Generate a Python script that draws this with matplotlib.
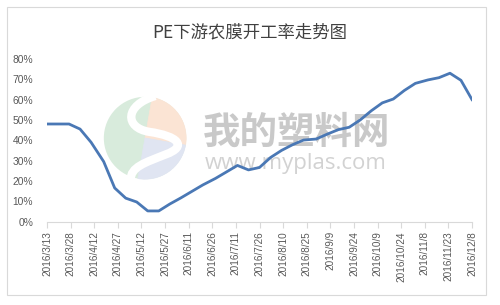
import datetime
import matplotlib
matplotlib.use("Agg")
import matplotlib.pyplot as plt
from matplotlib.patches import Circle, Wedge, Rectangle, PathPatch
from matplotlib.path import Path

plt.rcParams['font.family'] = ['Noto Sans CJK SC', 'DejaVu Sans']

title = "PE下游农膜开工率走势图"

dates = [
    "2016-03-13", "2016-03-20", "2016-03-27", "2016-04-03", "2016-04-10",
    "2016-04-18", "2016-04-25", "2016-05-02", "2016-05-09", "2016-05-16",
    "2016-05-23", "2016-05-30", "2016-06-06", "2016-06-13", "2016-06-20",
    "2016-06-28", "2016-07-05", "2016-07-12", "2016-07-19", "2016-07-26",
    "2016-08-02", "2016-08-09", "2016-08-16", "2016-08-23", "2016-08-31",
    "2016-09-07", "2016-09-14", "2016-09-21", "2016-09-28", "2016-10-05",
    "2016-10-12", "2016-10-19", "2016-10-26", "2016-11-02", "2016-11-10",
    "2016-11-17", "2016-11-24", "2016-12-01", "2016-12-08",
]

rates = [
    48, 48, 48, 45.5, 39,
    29.5, 16.5, 11.5, 9.6, 5.2,
    5.2, 8.6, 11.6, 14.8, 18.0,
    21.2, 24.4, 27.6, 25.4, 26.6,
    31.5, 35.0, 37.8, 40.1, 40.6,
    43.0, 45.2, 46.4, 50.0, 54.5,
    58.4, 60.3, 64.5, 68.0, 69.7,
    70.8, 73.0, 69.5, 60.0,
]

tick_start = datetime.date(2016, 3, 13)
tick_end = datetime.date(2016, 12, 8)

x = [datetime.datetime.strptime(d, "%Y-%m-%d").date() for d in dates]
y = [r / 100 for r in rates]

W, H = 500, 305
fig = plt.figure(figsize=(W / 100, H / 100), dpi=100)

# chart border
fig.patches.append(Rectangle((7 / W, 1 - 295 / H), 479 / W, 288 / H,
                             transform=fig.transFigure, fill=False,
                             edgecolor="#d9d9d9", linewidth=0.8))

# watermark logo
logo = fig.add_axes([103 / W, 1 - 180 / H, 84 / W, 84 / H], zorder=0)
logo.set_xlim(-1.02, 1.02)
logo.set_ylim(-1.02, 1.02)
logo.axis("off")
logo.add_patch(Circle((0, 0), 1, facecolor="#d8ebdc", edgecolor="none"))
logo.add_patch(Wedge((0, 0), 1, -10, 80, facecolor="#fbe4d4",
                     edgecolor="#fbe4d4", linewidth=0.5))
logo.add_patch(Wedge((0, 0), 1, -100, -10, facecolor="#e0e5f2",
                     edgecolor="#e0e5f2", linewidth=0.5))
s_path = Path([(0.25, 1.02),
               (-0.5, 0.8), (-0.5, 0.25), (0.1, 0.15),
               (0.8, 0.05), (1.05, -0.2), (0.5, -0.4),
               (0.0, -0.6), (-0.35, -0.7), (-0.35, -1.02)],
              [Path.MOVETO] + [Path.CURVE4] * 9)
logo.add_patch(PathPatch(s_path, facecolor="none", edgecolor="white",
                         linewidth=6, capstyle="butt"))

fig.text(297 / W, 1 - 132 / H, "我的塑料网", ha="center", va="center",
         fontsize=27, color="#c9c9c9", fontweight="bold", zorder=1)
fig.text(296 / W, 1 - 163 / H, "www.myplas.com", ha="center", va="center",
         fontsize=16, color="#d2d2d2", family=["Open Sans", "DejaVu Sans"],
         zorder=1)

ax = fig.add_axes([47 / W, 1 - 221.5 / H, 425 / W, 162.5 / H], zorder=2)
ax.patch.set_alpha(0)
ax.plot(x, y, color="#4a78b5", linewidth=2.0, solid_joinstyle="round")

ax.set_xlim(tick_start, tick_end)
ax.set_ylim(0, 0.8)

ticks = []
d = tick_start
while d <= tick_end:
    ticks.append(d)
    d += datetime.timedelta(days=15)
ax.set_xticks(ticks)
ax.set_xticklabels([f"{t.year}/{t.month}/{t.day}" for t in ticks],
                   rotation=90, fontsize=7.2, color="#595959",
                   family=["Liberation Sans", "DejaVu Sans"])
ax.set_yticks([i / 10 for i in range(9)])
ax.set_yticklabels([f"{i * 10}%" for i in range(9)], fontsize=7.4,
                   color="#595959", family=["Liberation Sans", "DejaVu Sans"])

for side in ["top", "right", "left"]:
    ax.spines[side].set_visible(False)
ax.spines["bottom"].set_color("#d9d9d9")
ax.tick_params(axis="x", direction="out", length=4, color="#d9d9d9", pad=3)
ax.tick_params(axis="y", length=0, pad=10)

fig.text(250 / W, 1 - 32 / H, title, ha="center", va="center",
         fontsize=12.5, color="#404040")

fig.savefig("out.png", dpi=100)
